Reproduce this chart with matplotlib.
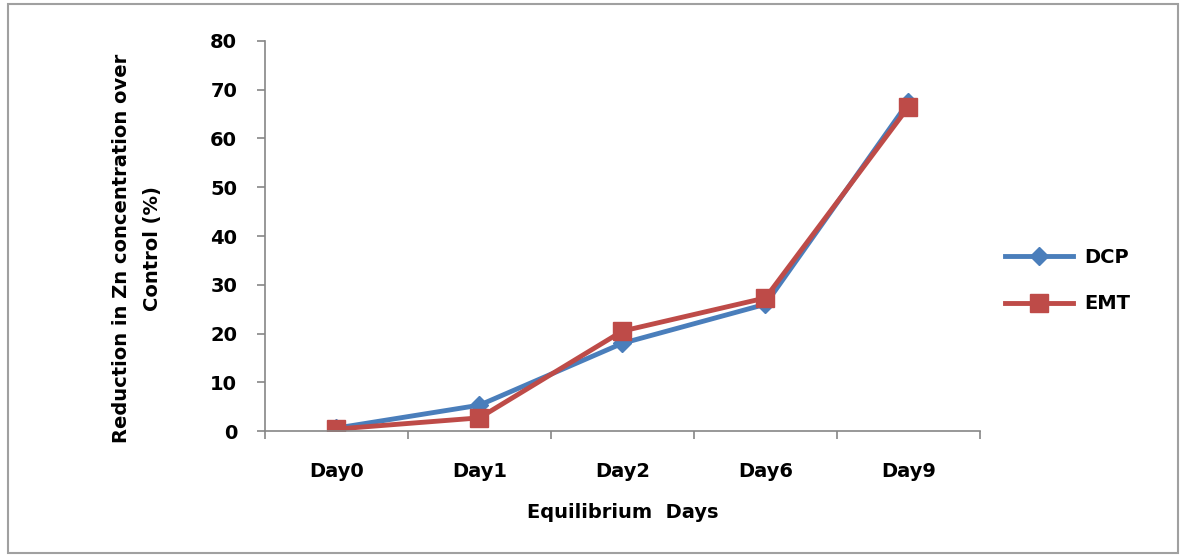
import matplotlib.pyplot as plt
from matplotlib.patches import Rectangle

# Zn reduction over control, per equilibrium day
days = ["Day0", "Day1", "Day2", "Day6", "Day9"]
dcp = [0.6, 5.3, 18.0, 26.0, 67.5]
emt = [0.4, 2.7, 20.5, 27.3, 66.5]

BLUE = "#4A7EBB"
RED = "#BE4B48"
GRID = "#868686"

plt.rcParams["font.family"] = "DejaVu Sans"
plt.rcParams["font.weight"] = "bold"

fig = plt.figure(figsize=(11.86, 5.57), dpi=100)
fig.patches.append(Rectangle((0.007, 0.007), 0.986, 0.986, transform=fig.transFigure,
                             fill=False, edgecolor="#A0A0A0", linewidth=1.5))

ax = fig.add_axes([0.2234, 0.2262, 0.6029, 0.7002])
x = range(len(days))
ax.plot(x, dcp, color=BLUE, linewidth=3.5, marker="D", markersize=9, label="DCP")
ax.plot(x, emt, color=RED, linewidth=3.5, marker="s", markersize=13, label="EMT")

ax.set_xlim(-0.5, len(days) - 0.5)
ax.set_ylim(0, 80)
ax.set_yticks(range(0, 81, 10))
ax.set_xticks(list(x))
ax.set_xticklabels(days)
ax.set_xticks([i - 0.5 for i in range(len(days) + 1)], minor=True)
ax.tick_params(axis="x", which="major", length=0, pad=22, labelsize=14)
ax.tick_params(axis="x", which="minor", length=6, color=GRID, width=1.2)
ax.tick_params(axis="y", length=6, color=GRID, width=1.2, pad=14, labelsize=14)

for side in ("top", "right"):
    ax.spines[side].set_visible(False)
for side in ("left", "bottom"):
    ax.spines[side].set_color(GRID)
    ax.spines[side].set_linewidth(1.2)

ax.set_xlabel("Equilibrium  Days", fontsize=14, fontweight="bold", labelpad=16)
ax.set_ylabel("Reduction in Zn concentration over\nControl (%)", fontsize=14,
              fontweight="bold", linespacing=1.8)
ax.yaxis.set_label_coords(-0.144, 0.467)

ax.legend(loc="center left", bbox_to_anchor=(1.01, 0.385), frameon=False,
          fontsize=14, handlelength=3.5, labelspacing=1.4, handletextpad=0.6)

fig.savefig("out.png", dpi=100)
